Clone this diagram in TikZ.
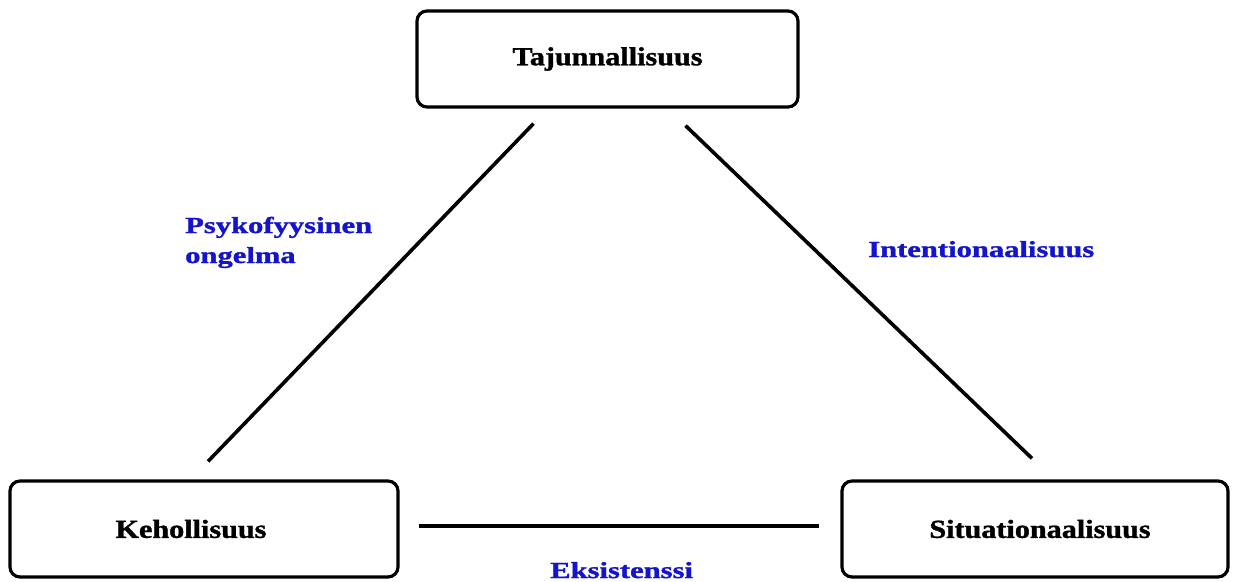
\documentclass[tikz,border=0pt]{standalone}
\usepackage{fontspec}
\usepackage{graphicx}
\setmainfont{Liberation Serif}[BoldFeatures={FakeBold=1.2}]
\definecolor{lblblue}{RGB}{20,20,205}
\newcommand{\blk}[1]{\scalebox{1.16}[1]{#1}}
\newcommand{\blu}[1]{\scalebox{1.33}[1]{#1}}
\begin{document}
\begin{tikzpicture}[x=1pt,y=-1pt,
  box/.style={draw=black, line width=3.2pt, rounded corners=10pt, minimum height=96pt,
    inner sep=0pt, font=\fontsize{26}{30}\selectfont\bfseries},
  conn/.style={draw=black, line width=3.6pt},
  lbl/.style={text=lblblue, inner sep=0pt, font=\fontsize{23}{30}\selectfont\bfseries}]
\useasboundingbox[fill=white] (0,0) rectangle (1233,581);

\node[box, minimum width=381pt] (taju) at (607.5,59) {\blk{Tajunnallisuus}};
\node[box, minimum width=388pt] (kehol) at (204,529) {\hspace*{-26pt}\raisebox{-4pt}{\blk{Kehollisuus}}};
\node[box, minimum width=386pt] (situ) at (1035,529) {\hspace*{10pt}\blk{Situationaalisuus}};

\draw[conn] ([shift={(4,-18)}]kehol.north) -- ([shift={(-74,15)}]taju.south);
\draw[conn] ([shift={(78,17)}]taju.south) -- ([shift={(-3,-21)}]situ.north);
\draw[conn] ([shift={(19,-3)}]kehol.east) -- ([shift={(-21,-3)}]situ.west);

\node[lbl, anchor=base west] (psy) at (185,233) {\blu{\begin{tabular}[t]{@{}l@{}}Psykofyysinen\\ongelma\end{tabular}}};
\node[lbl, anchor=base west] (inte) at (868,257) {\blu{Intentionaalisuus}};
\node[lbl, anchor=base west] (eks) at (550,578) {\blu{Eksistenssi}};
\end{tikzpicture}
\end{document}
